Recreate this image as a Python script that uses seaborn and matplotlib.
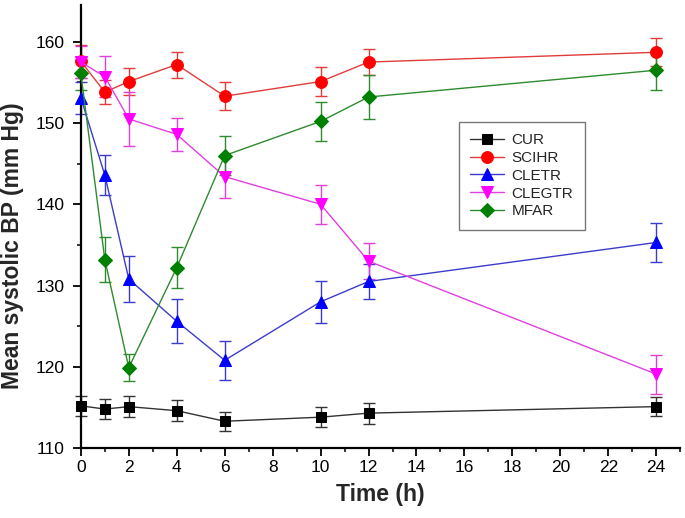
import numpy as np
import pandas as pd
import matplotlib
matplotlib.use('Agg')
import matplotlib.pyplot as plt
from matplotlib.ticker import MultipleLocator
import seaborn as sns

# Data
TIME = [0, 1, 2, 4, 6, 10, 12, 24]
GROUPS = ['CUR', 'SCIHR', 'CLETR', 'CLEGTR', 'MFAR']

cur = [115.2, 114.8, 115.1, 114.6, 113.3, 113.8, 114.3, 115.1]
cur_err = [1.2, 1.2, 1.3, 1.3, 1.2, 1.2, 1.3, 1.2]
scihr = [157.6, 153.8, 155.1, 157.2, 153.3, 155.1, 157.5, 158.7]
scihr_err = [2.0, 1.5, 1.7, 1.6, 1.7, 1.75, 1.6, 1.7]
cletr = [153.1, 143.6, 130.8, 125.6, 120.8, 128.0, 130.5, 135.3]
cletr_err = [2.0, 2.5, 2.8, 2.7, 2.4, 2.6, 2.2, 2.4]
clegtr = [157.5, 155.7, 150.5, 148.6, 143.4, 140.0, 133.0, 119.1]
clegtr_err = [2.0, 2.5, 3.3, 2.0, 2.6, 2.4, 2.2, 2.4]
mfar = [156.1, 133.2, 119.9, 132.2, 146.0, 150.2, 153.2, 156.5]
mfar_err = [2.0, 2.8, 1.7, 2.5, 2.4, 2.4, 2.7, 2.4]

VALUES = [cur, scihr, cletr, clegtr, mfar]
ERRORS = [cur_err, scihr_err, cletr_err, clegtr_err, mfar_err]

COLORS = {'CUR': '#000000', 'SCIHR': '#ff0000', 'CLETR': '#0000ff',
          'CLEGTR': '#ff00ff', 'MFAR': '#008000'}
LINE_COLORS = {'CUR': '#333333', 'SCIHR': '#e03c3c', 'CLETR': '#3c3ccc',
               'CLEGTR': '#e040e0', 'MFAR': '#2e8b2e'}
MARKERS = {'CUR': 's', 'SCIHR': 'o', 'CLETR': '^', 'CLEGTR': 'v', 'MFAR': 'D'}
SIZES = {'CUR': 7, 'SCIHR': 8.5, 'CLETR': 8.5, 'CLEGTR': 8.5, 'MFAR': 7}

rows = []
for g, vals, errs in zip(GROUPS, VALUES, ERRORS):
    for t, v, e in zip(TIME, vals, errs):
        rows.append({'time': t, 'bp': v, 'err': e, 'group': g})
df = pd.DataFrame(rows)

sns.set_style('ticks')
plt.rcParams['font.family'] = ['Liberation Sans', 'DejaVu Sans']

fig, ax = plt.subplots(figsize=(6.85, 5.18), dpi=100)
fig.subplots_adjust(left=0.118, right=0.993, top=0.99, bottom=0.135)

# error bars first, lines and markers on top
for g in GROUPS:
    sub = df[df.group == g]
    ax.errorbar(sub.time, sub.bp, yerr=sub.err, fmt='none',
                ecolor=LINE_COLORS[g], elinewidth=1, capsize=4,
                capthick=1, zorder=2, clip_on=False)

for g in GROUPS:
    sub = df[df.group == g]
    sns.lineplot(data=sub, x='time', y='bp', ax=ax, color=LINE_COLORS[g],
                 linewidth=1, marker=MARKERS[g], markersize=SIZES[g],
                 markerfacecolor=COLORS[g], markeredgecolor=COLORS[g],
                 label=g, zorder=3, clip_on=False)

ax.set_xlim(0, 25)
ax.set_ylim(110, 164.5)
ax.xaxis.set_major_locator(MultipleLocator(2))
ax.xaxis.set_minor_locator(MultipleLocator(1))
ax.yaxis.set_major_locator(MultipleLocator(10))
ax.yaxis.set_minor_locator(MultipleLocator(5))
ax.tick_params(which='major', direction='out', length=5.5, width=1.3,
               labelsize=12.5, colors='black')
ax.tick_params(which='minor', direction='out', length=3, width=1.3)
ax.tick_params(axis='y', which='major', pad=6)
ax.tick_params(axis='x', which='major', pad=3)

sns.despine(ax=ax)
for s in ['left', 'bottom']:
    ax.spines[s].set_linewidth(1.6)
    ax.spines[s].set_color('black')

ax.set_xlabel('Time (h)', fontsize=16.5, fontweight='bold', labelpad=6)
ax.set_ylabel('Mean systolic BP (mm Hg)', fontsize=16.5, fontweight='bold')
ax.yaxis.set_label_coords(-0.094, 0.458)

leg = ax.legend(loc='upper left', bbox_to_anchor=(0.631, 0.737),
                fontsize=11, frameon=True, fancybox=False,
                edgecolor='#555555', handlelength=2.2, labelspacing=0.25,
                borderpad=0.75, handletextpad=0.5, borderaxespad=0)
leg.get_frame().set_linewidth(1)

fig.savefig('out.png', dpi=100)
